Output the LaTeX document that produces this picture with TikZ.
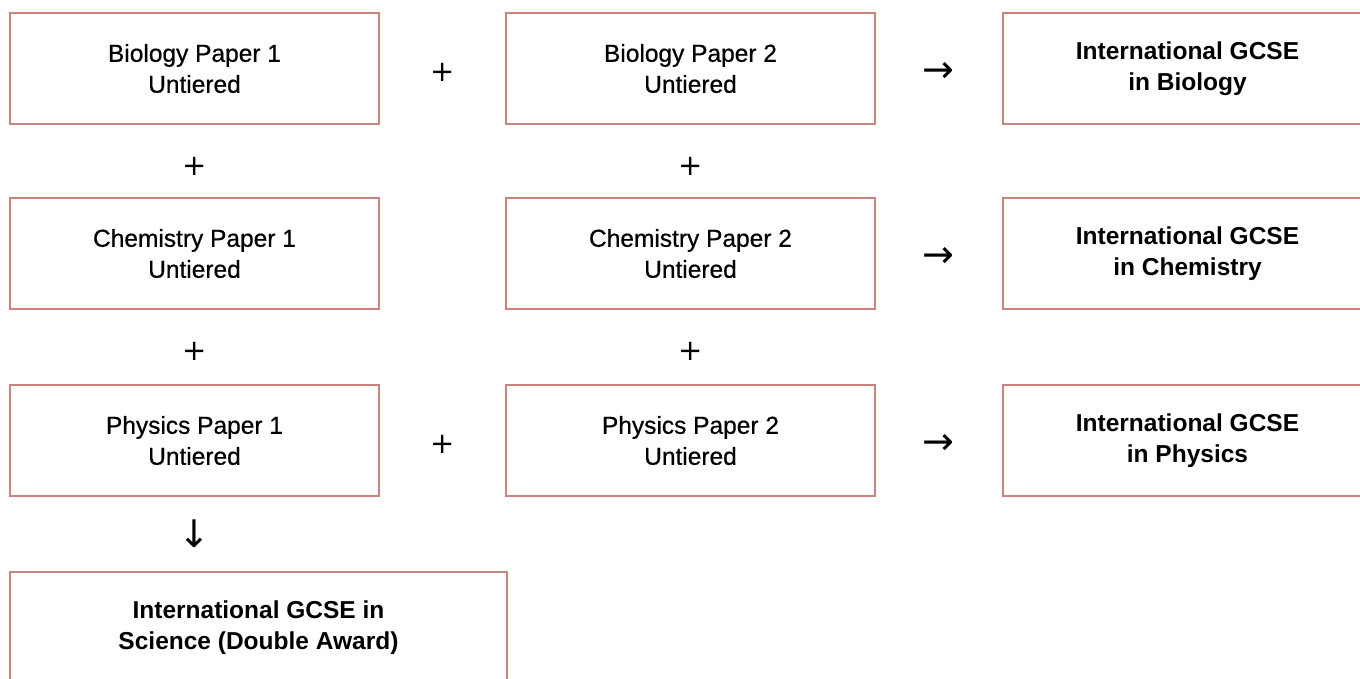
\documentclass[tikz,border=0pt]{standalone}
\usepackage{fontspec}
\setmainfont{Liberation Sans}
\newfontfamily\medfont[FakeBold=0.6]{Liberation Sans}
\newfontfamily\symfont{DejaVu Sans}
\definecolor{boxline}{RGB}{201,132,128}
\begin{document}
\begin{tikzpicture}[x=1pt,y=-1pt,
  paper/.style={draw=boxline,line width=2pt,rectangle,minimum width=369pt,minimum height=111pt,
    align=center,font=\medfont\fontsize{24.5}{31}\selectfont,inner sep=0pt},
  result/.style={paper,font=\fontsize{24.5}{31}\selectfont\bfseries},
  sym/.style={inner sep=0pt,font=\symfont\fontsize{29}{29}\selectfont},
  arr/.style={inner sep=0pt,font=\symfont\fontsize{38}{38}\selectfont}]
\clip (0,0) rectangle (1360,678);
\fill[white] (0,0) rectangle (1360,678);
% row 1
\node[paper] (b1) at (194.5,68.5) {Biology Paper 1\\Untiered};
\node[paper] (b2) at (690.5,68.5) {Biology Paper 2\\Untiered};
\node[result,line width=1.2pt] (rb) at (1187.5,68.5) {International GCSE\\in Biology};
% row 2
\node[paper] (c1) at (194.5,253.5) {Chemistry Paper 1\\Untiered};
\node[paper] (c2) at (690.5,253.5) {Chemistry Paper 2\\Untiered};
\node[result] (rc) at (1187.5,253.5) {International GCSE\\in Chemistry};
% row 3
\node[paper] (p1) at (194.5,440.5) {Physics Paper 1\\Untiered};
\node[paper] (p2) at (690.5,440.5) {Physics Paper 2\\Untiered};
\node[result] (rp) at (1187.5,440.5) {International GCSE\\in Physics};
% bottom
\node[result,minimum width=497pt] (ds) at (258.5,627.5) {International GCSE in\\Science (Double Award)};
% operators
\node[sym] (pl1) at (442.5,72) {+};
\node[sym] (pl2) at (442.5,444) {+};
\node[sym] (pv1) at (194.5,166) {+};
\node[sym] (pv2) at (690.5,166) {+};
\node[sym] (pv3) at (194.5,351) {+};
\node[sym] (pv4) at (690.5,351) {+};
\node[arr] (ar1) at (938,72) {→};
\node[arr] (ar2) at (938,257) {→};
\node[arr] (ar3) at (938,444) {→};
\node[arr] (ard) at (194.5,534) {↓};
\end{tikzpicture}
\end{document}
